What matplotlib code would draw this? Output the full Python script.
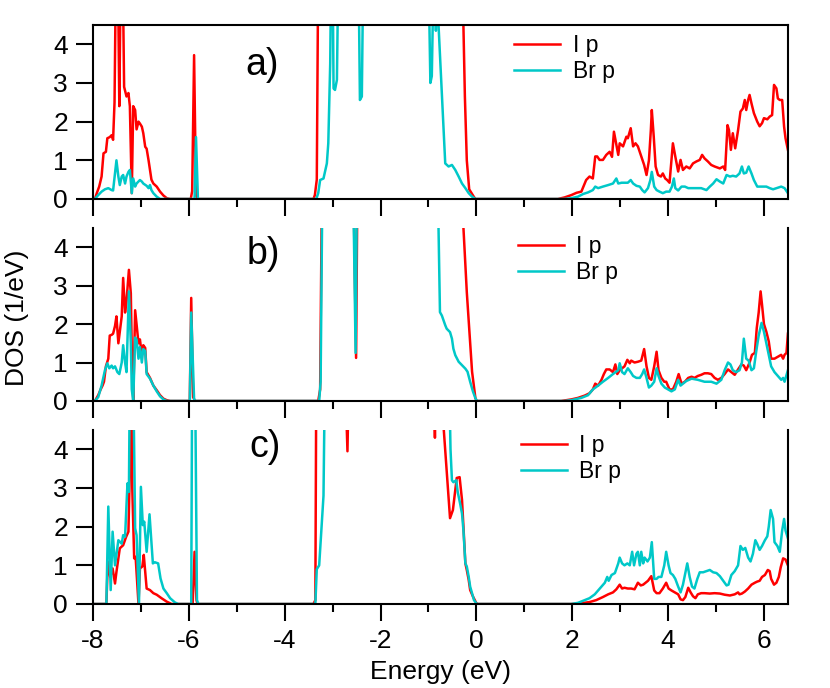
import matplotlib
matplotlib.use('Agg')
import matplotlib.pyplot as plt
from matplotlib.ticker import MultipleLocator

# (energy eV, DOS 1/eV) points; 6.0 = off scale
# panel a)
a_i_p = [(-8.0, 0), (-7.96, 0), (-7.92, 0.15), (-7.87, 0.32), (-7.82, 0.58), (-7.78, 1.18),
         (-7.73, 1.22), (-7.70, 1.57), (-7.65, 1.60), (-7.61, 1.65), (-7.58, 1.53), (-7.55, 2.5),
         (-7.52, 6), (-7.48, 6), (-7.45, 2.4), (-7.42, 6), (-7.38, 6), (-7.35, 2.9), (-7.30, 2.65),
         (-7.26, 2.74), (-7.23, 2.4), (-7.19, 0.15), (-7.16, 2.4), (-7.12, 2.3), (-7.09, 1.8),
         (-7.05, 2.0), (-7.02, 1.95), (-6.98, 1.87), (-6.95, 1.7), (-6.91, 1.35), (-6.88, 1.3),
         (-6.84, 1.0), (-6.81, 0.75), (-6.78, 0.5), (-6.74, 0.4), (-6.67, 0.32), (-6.60, 0.19),
         (-6.53, 0.09), (-6.46, 0.02), (-6.39, 0),
         (-5.96, 0), (-5.93, 0.2), (-5.89, 3.72), (-5.85, 0.1), (-5.82, 0),
         (-3.40, 0), (-3.37, 0.1), (-3.33, 0.5), (-3.30, 6), (-0.30, 6), (-0.27, 4.45), (-0.24, 2.65),
         (-0.20, 1.0), (-0.15, 0.25), (-0.05, 0.05), (-0.02, 0),
         (1.70, 0), (1.84, 0.04), (1.98, 0.1), (2.09, 0.16), (2.19, 0.19), (2.29, 0.49), (2.36, 0.58),
         (2.43, 0.53), (2.48, 1.1), (2.52, 1.1), (2.57, 1.01), (2.64, 1.01), (2.71, 1.14), (2.78, 1.22),
         (2.83, 1.09), (2.87, 1.74), (2.92, 1.4), (2.96, 1.14), (2.99, 1.44), (3.06, 1.36), (3.13, 1.61),
         (3.16, 1.57), (3.22, 1.83), (3.27, 1.36), (3.32, 1.44), (3.37, 1.36), (3.44, 1.1), (3.50, 0.88),
         (3.55, 0.62), (3.60, 1.0), (3.64, 1.78), (3.66, 2.3), (3.70, 1.62), (3.74, 0.84), (3.79, 0.62),
         (3.85, 0.58), (3.89, 0.66), (3.94, 0.53), (3.98, 0.49), (4.03, 0.42), (4.10, 1.44), (4.15, 1.1),
         (4.21, 0.71), (4.26, 1.01), (4.31, 0.75), (4.38, 0.84), (4.45, 0.79), (4.52, 0.92), (4.59, 0.97),
         (4.66, 1.01), (4.71, 1.14), (4.76, 1.05), (4.83, 0.97), (4.90, 0.88), (4.97, 0.84), (5.08, 0.79),
         (5.15, 0.84), (5.19, 0.75), (5.24, 1.91), (5.27, 1.78), (5.31, 1.27), (5.35, 1.70), (5.40, 1.31),
         (5.46, 1.78), (5.51, 2.26), (5.56, 2.34), (5.60, 2.56), (5.63, 2.30), (5.67, 2.56), (5.70, 2.69),
         (5.74, 2.47), (5.79, 2.22), (5.86, 2.0), (5.91, 1.88), (5.96, 1.96), (6.00, 2.09), (6.07, 2.06),
         (6.12, 2.13), (6.17, 2.17), (6.21, 2.95), (6.26, 2.86), (6.29, 2.6), (6.33, 2.56), (6.38, 2.56),
         (6.42, 1.87), (6.45, 1.57), (6.50, 1.27)]

a_br_p = [(-8.0, 0), (-7.96, 0), (-7.89, 0.1), (-7.82, 0.19), (-7.75, 0.25), (-7.68, 0.28), (-7.61, 0.23),
          (-7.58, 0.22), (-7.51, 1.0), (-7.47, 0.58), (-7.44, 0.36), (-7.40, 0.58), (-7.37, 0.62),
          (-7.33, 0.4), (-7.30, 0.58), (-7.26, 0.7), (-7.23, 0.75), (-7.19, 0.15), (-7.16, 0.53),
          (-7.12, 0.32), (-7.09, 0.4), (-7.02, 0.49), (-6.98, 0.45), (-6.95, 0.4), (-6.88, 0.34),
          (-6.84, 0.28), (-6.81, 0.36), (-6.78, 0.23), (-6.74, 0.15), (-6.67, 0.06), (-6.60, 0),
          (-5.88, 0), (-5.85, 1.6), (-5.81, 0),
          (-3.34, 0), (-3.30, 0.15), (-3.26, 0.49), (-3.19, 0.53), (-3.12, 0.92), (-3.09, 1.44),
          (-3.05, 3.5), (-3.03, 6), (-3.00, 6), (-2.98, 2.86), (-2.95, 2.82), (-2.91, 3.08), (-2.88, 6),
          (-2.46, 6), (-2.43, 2.56), (-2.39, 2.65), (-2.36, 6), (-1.00, 6), (-0.96, 3.0), (-0.93, 3.18),
          (-0.89, 6), (-0.86, 6), (-0.845, 4.35), (-0.83, 6), (-0.79, 4.5), (-0.72, 2.73), (-0.65, 0.92),
          (-0.58, 0.84), (-0.51, 0.88), (-0.44, 0.75), (-0.37, 0.58), (-0.30, 0.4), (-0.23, 0.28),
          (-0.16, 0.15), (-0.09, 0.06), (-0.02, 0),
          (1.84, 0), (1.98, 0.02), (2.12, 0.06), (2.23, 0.13), (2.33, 0.17), (2.43, 0.23), (2.48, 0.32),
          (2.54, 0.28), (2.64, 0.32), (2.75, 0.36), (2.85, 0.4), (2.92, 0.53), (2.96, 0.4), (3.03, 0.42),
          (3.16, 0.42), (3.22, 0.49), (3.27, 0.4), (3.34, 0.34), (3.41, 0.32), (3.46, 0.23), (3.51, 0.17),
          (3.58, 0.28), (3.63, 0.49), (3.66, 0.7), (3.71, 0.32), (3.76, 0.23), (3.82, 0.19), (3.89, 0.15),
          (3.96, 0.19), (4.03, 0.19), (4.08, 0.32), (4.12, 0.53), (4.15, 0.28), (4.21, 0.22), (4.28, 0.32),
          (4.35, 0.32), (4.42, 0.28), (4.59, 0.28), (4.69, 0.28), (4.80, 0.23), (4.87, 0.32), (4.94, 0.4),
          (5.01, 0.51), (5.08, 0.45), (5.15, 0.4), (5.22, 0.62), (5.29, 0.58), (5.35, 0.6), (5.42, 0.58),
          (5.49, 0.66), (5.54, 0.84), (5.58, 0.66), (5.63, 0.68), (5.68, 0.84), (5.74, 0.66), (5.79, 0.49),
          (5.86, 0.32), (5.95, 0.32), (6.05, 0.32), (6.12, 0.28), (6.19, 0.25), (6.26, 0.28), (6.36, 0.32),
          (6.43, 0.28), (6.50, 0.15)]

# panel b)
b_i_p = [(-8.0, 0), (-7.96, 0), (-7.89, 0.15), (-7.84, 0.3), (-7.80, 0.4), (-7.77, 0.5), (-7.73, 0.9),
         (-7.68, 1.1), (-7.65, 1.7), (-7.61, 1.72), (-7.58, 1.75), (-7.54, 1.95), (-7.51, 2.2),
         (-7.47, 1.5), (-7.44, 1.8), (-7.40, 2.2), (-7.37, 3.2), (-7.33, 2.3), (-7.30, 2.6), (-7.25, 3.41),
         (-7.21, 2.8), (-7.19, 1.3), (-7.16, 0.02), (-7.12, 2.36), (-7.09, 2.0), (-7.05, 1.5), (-7.02, 1.6),
         (-6.98, 1.2), (-6.95, 1.45), (-6.91, 1.38), (-6.88, 0.75), (-6.81, 0.6), (-6.74, 0.4),
         (-6.67, 0.28), (-6.60, 0.15), (-6.53, 0.06), (-6.46, 0.02), (-6.39, 0),
         (-5.98, 0), (-5.95, 2.68), (-5.91, 0.1), (-5.87, 0),
         (-3.30, 0), (-3.26, 0.3), (-3.22, 6), (-2.57, 6), (-2.51, 1.12), (-2.48, 6), (-0.30, 6),
         (-0.27, 4.5), (-0.20, 2.83), (-0.13, 1.53), (-0.09, 0.76), (-0.02, 0.07), (0.01, 0),
         (1.77, 0), (1.98, 0.04), (2.12, 0.08), (2.26, 0.14), (2.36, 0.2), (2.43, 0.3), (2.48, 0.45),
         (2.54, 0.4), (2.61, 0.55), (2.66, 0.7), (2.71, 0.82), (2.78, 0.82), (2.85, 0.75), (2.90, 0.95),
         (2.94, 0.7), (2.99, 0.8), (3.09, 0.9), (3.15, 1.07), (3.20, 0.98), (3.23, 1.05), (3.30, 1.0),
         (3.37, 1.02), (3.44, 1.05), (3.50, 1.35), (3.55, 0.9), (3.60, 0.6), (3.65, 0.55), (3.71, 0.9),
         (3.76, 1.28), (3.80, 0.8), (3.86, 0.6), (3.92, 0.5), (3.96, 0.5), (4.03, 0.3), (4.10, 0.3),
         (4.17, 0.5), (4.22, 0.7), (4.28, 0.45), (4.35, 0.5), (4.42, 0.6), (4.49, 0.63), (4.55, 0.6),
         (4.62, 0.65), (4.69, 0.68), (4.76, 0.72), (4.83, 0.72), (4.90, 0.7), (4.97, 0.6), (5.04, 0.55),
         (5.11, 0.6), (5.18, 0.7), (5.25, 0.82), (5.32, 0.75), (5.39, 0.68), (5.46, 0.82), (5.53, 0.95),
         (5.58, 0.92), (5.63, 0.8), (5.70, 1.0), (5.75, 1.2), (5.81, 1.25), (5.85, 1.9), (5.89, 2.3),
         (5.93, 2.85), (5.96, 2.5), (6.00, 2.0), (6.05, 1.8), (6.10, 1.55), (6.15, 1.1), (6.22, 1.1),
         (6.29, 1.15), (6.36, 1.2), (6.40, 1.1), (6.43, 1.2), (6.47, 1.25), (6.50, 1.75)]

b_br_p = [(-8.0, 0), (-7.96, 0), (-7.89, 0.1), (-7.82, 0.4), (-7.75, 0.8), (-7.70, 0.98), (-7.66, 0.85),
          (-7.61, 0.92), (-7.58, 0.85), (-7.54, 0.9), (-7.49, 0.75), (-7.45, 0.7), (-7.40, 1.0),
          (-7.37, 1.45), (-7.33, 1.0), (-7.30, 0.75), (-7.25, 2.85), (-7.21, 1.5), (-7.19, 0.3),
          (-7.16, 0.0), (-7.12, 1.65), (-7.09, 1.6), (-7.05, 1.1), (-7.02, 1.4), (-6.98, 1.0),
          (-6.95, 1.35), (-6.91, 1.3), (-6.88, 0.7), (-6.81, 0.58), (-6.74, 0.4), (-6.67, 0.25),
          (-6.60, 0.12), (-6.53, 0.04), (-6.46, 0),
          (-5.98, 0), (-5.95, 2.3), (-5.89, 0.05), (-5.86, 0),
          (-3.28, 0), (-3.25, 0.5), (-3.21, 6), (-2.575, 6), (-2.52, 1.25), (-2.49, 6), (-0.80, 6),
          (-0.79, 4.5), (-0.76, 2.31), (-0.72, 2.22), (-0.65, 1.97), (-0.62, 1.88), (-0.55, 1.79),
          (-0.51, 1.62), (-0.48, 1.36), (-0.44, 1.19), (-0.37, 1.02), (-0.30, 0.93), (-0.23, 0.84),
          (-0.185, 0.76), (-0.13, 0.5), (-0.07, 0.24), (-0.02, 0.07), (0.01, 0),
          (1.84, 0), (1.98, 0.02), (2.19, 0.08), (2.33, 0.15), (2.43, 0.3), (2.54, 0.4), (2.64, 0.5),
          (2.75, 0.6), (2.85, 0.7), (2.96, 0.8), (2.99, 0.98), (3.04, 0.75), (3.09, 0.7), (3.16, 0.85),
          (3.22, 0.75), (3.27, 0.65), (3.34, 0.6), (3.41, 0.6), (3.46, 0.7), (3.50, 0.82), (3.55, 0.6),
          (3.60, 0.35), (3.65, 0.4), (3.71, 0.5), (3.76, 0.85), (3.80, 0.65), (3.86, 0.45), (3.93, 0.35),
          (4.00, 0.3), (4.07, 0.25), (4.14, 0.3), (4.21, 0.55), (4.26, 0.4), (4.31, 0.45), (4.38, 0.52),
          (4.49, 0.58), (4.62, 0.55), (4.76, 0.5), (4.90, 0.5), (5.01, 0.45), (5.11, 0.55), (5.18, 0.8),
          (5.25, 1.0), (5.30, 0.95), (5.35, 0.8), (5.42, 0.75), (5.49, 0.8), (5.54, 1.0), (5.58, 1.62),
          (5.63, 1.1), (5.68, 1.05), (5.74, 0.8), (5.79, 0.85), (5.84, 1.3), (5.89, 1.7), (5.95, 2.03),
          (6.00, 1.8), (6.05, 1.5), (6.10, 1.2), (6.15, 0.9), (6.22, 0.75), (6.29, 0.65), (6.36, 0.55),
          (6.40, 0.6), (6.43, 0.5), (6.50, 0.8)]

# panel c)
c_i_p = [(-8.0, 0), (-7.72, 0), (-7.69, 1.1), (-7.64, 0.7), (-7.59, 0.92), (-7.54, 0.53), (-7.51, 0.83),
         (-7.44, 1.44), (-7.37, 1.52), (-7.31, 1.73), (-7.26, 1.87), (-7.23, 3.5), (-7.20, 6),
         (-7.18, 3.0), (-7.14, 1.18), (-7.11, 1.22), (-7.05, 0), (-7.02, 0.92), (-6.97, 0.97),
         (-6.94, 1.27), (-6.88, 0.4), (-6.81, 0.36), (-6.74, 0.28), (-6.67, 0.24), (-6.57, 0.15),
         (-6.46, 0.06), (-6.36, 0),
         (-5.92, 0), (-5.88, 1.35), (-5.84, 0.1), (-5.82, 0),
         (-3.40, 0), (-3.36, 0.1), (-3.34, 6), (-2.74, 6), (-2.69, 3.95), (-2.66, 6), (-0.89, 6),
         (-0.865, 4.3), (-0.85, 6), (-0.70, 6), (-0.68, 4.5), (-0.55, 2.22), (-0.49, 2.43), (-0.44, 2.95),
         (-0.41, 3.26), (-0.35, 3.28), (-0.30, 2.69), (-0.27, 2.0), (-0.23, 1.05), (-0.20, 0.88),
         (-0.16, 0.62), (-0.13, 0.36), (-0.07, 0.19), (0.0, 0.02), (0.02, 0),
         (1.98, 0), (2.19, 0.02), (2.36, 0.05), (2.50, 0.1), (2.64, 0.18), (2.75, 0.25), (2.85, 0.3),
         (2.92, 0.38), (2.99, 0.5), (3.04, 0.4), (3.09, 0.42), (3.16, 0.4), (3.23, 0.4), (3.30, 0.38),
         (3.37, 0.55), (3.43, 0.48), (3.48, 0.5), (3.53, 0.55), (3.58, 0.6), (3.65, 0.72), (3.71, 0.35),
         (3.76, 0.28), (3.82, 0.28), (3.89, 0.4), (3.96, 0.55), (4.01, 0.4), (4.07, 0.35), (4.14, 0.3),
         (4.21, 0.25), (4.26, 0.12), (4.31, 0.1), (4.36, 0.18), (4.42, 0.42), (4.47, 0.3), (4.52, 0.2),
         (4.57, 0.15), (4.62, 0.25), (4.69, 0.28), (4.76, 0.28), (4.87, 0.27), (4.97, 0.28), (5.08, 0.27),
         (5.18, 0.24), (5.29, 0.22), (5.39, 0.25), (5.46, 0.3), (5.49, 0.25), (5.54, 0.27), (5.60, 0.32),
         (5.67, 0.4), (5.74, 0.5), (5.81, 0.55), (5.86, 0.58), (5.91, 0.6), (5.96, 0.7), (6.02, 0.75),
         (6.08, 0.88), (6.12, 0.85), (6.15, 0.65), (6.21, 0.5), (6.26, 0.55), (6.31, 0.7), (6.35, 0.95),
         (6.40, 1.18), (6.45, 1.15), (6.50, 1.0)]

c_br_p = [(-8.0, 0), (-7.72, 0), (-7.68, 2.52), (-7.63, 0.36), (-7.59, 1.87), (-7.54, 1.0), (-7.47, 1.65),
          (-7.40, 1.56), (-7.37, 1.78), (-7.33, 1.74), (-7.28, 3.12), (-7.25, 2.9), (-7.23, 6), (-7.16, 6),
          (-7.12, 1.96), (-7.09, 1.78), (-7.04, 0), (-7.00, 3.03), (-6.96, 2.04), (-6.93, 2.13),
          (-6.88, 1.35), (-6.82, 2.32), (-6.75, 1.05), (-6.71, 1.08), (-6.64, 1.05), (-6.59, 0.66),
          (-6.53, 0.4), (-6.46, 0.28), (-6.39, 0.15), (-6.29, 0.04), (-6.22, 0),
          (-5.95, 0), (-5.93, 6), (-5.87, 6), (-5.83, 0.1), (-5.80, 0),
          (-3.36, 0), (-3.33, 0.9), (-3.28, 1.0), (-3.23, 2.0), (-3.19, 2.8), (-3.16, 6), (-0.57, 6),
          (-0.54, 4.0), (-0.51, 3.2), (-0.48, 3.15), (-0.42, 3.2), (-0.39, 2.9), (-0.34, 2.6),
          (-0.30, 2.34), (-0.27, 1.9), (-0.23, 1.05), (-0.20, 0.97), (-0.16, 0.7), (-0.13, 0.45),
          (-0.09, 0.28), (-0.05, 0.1), (0.01, 0),
          (1.98, 0), (2.12, 0.03), (2.26, 0.1), (2.36, 0.15), (2.47, 0.25), (2.54, 0.35), (2.61, 0.45),
          (2.68, 0.55), (2.73, 0.7), (2.76, 0.6), (2.82, 0.75), (2.89, 0.8), (2.96, 1.05), (2.99, 1.2),
          (3.04, 1.05), (3.09, 1.0), (3.15, 1.05), (3.20, 1.0), (3.25, 1.35), (3.29, 1.0), (3.34, 1.3),
          (3.37, 1.35), (3.41, 1.0), (3.44, 1.35), (3.48, 1.05), (3.51, 1.2), (3.57, 1.1), (3.62, 1.2),
          (3.66, 1.6), (3.71, 0.65), (3.76, 0.65), (3.80, 0.7), (3.86, 0.7), (3.92, 1.0), (3.96, 1.35),
          (4.01, 1.0), (4.05, 0.8), (4.10, 0.75), (4.15, 0.65), (4.21, 0.45), (4.26, 0.3), (4.31, 0.5),
          (4.36, 0.8), (4.40, 1.05), (4.45, 0.7), (4.50, 0.45), (4.55, 0.4), (4.61, 0.65), (4.66, 0.82),
          (4.73, 0.82), (4.80, 0.85), (4.87, 0.88), (4.94, 0.82), (5.01, 0.8), (5.08, 0.72), (5.15, 0.6),
          (5.22, 0.48), (5.26, 0.5), (5.32, 0.75), (5.39, 0.85), (5.46, 1.0), (5.51, 1.5), (5.56, 1.4),
          (5.61, 1.45), (5.67, 1.2), (5.72, 1.1), (5.77, 1.3), (5.82, 1.65), (5.86, 1.55), (5.91, 1.4),
          (5.96, 1.5), (6.02, 1.65), (6.07, 1.75), (6.10, 2.0), (6.14, 2.43), (6.19, 2.2), (6.22, 1.6),
          (6.28, 1.5), (6.33, 1.35), (6.38, 1.9), (6.42, 2.2), (6.45, 1.9), (6.50, 1.7)]

series_names = ['I p', 'Br p']
panel_labels = ['a)', 'b)', 'c)']
x_ticks = [-8, -6, -4, -2, 0, 2, 4, 6]
y_ticks = [0, 1, 2, 3, 4]

RED = '#ff0000'
CYAN = '#00c8c8'

plt.rcParams['font.family'] = ['Liberation Sans', 'DejaVu Sans']
plt.rcParams['axes.unicode_minus'] = False


def split(pts):
    return [p[0] for p in pts], [p[1] for p in pts]


fig = plt.figure(figsize=(8.3, 6.88), dpi=100)

boxes = [(0.1120, 0.7108, 0.8373, 0.2529),
         (0.1120, 0.4172, 0.8373, 0.2515),
         (0.1120, 0.1221, 0.8373, 0.2529)]
legend_pos = [(0.606, 0.948), (0.6115, 0.960), (0.616, 0.977)]
label_pos = [(0.243, 0.770), (0.245, 0.850), (0.247, 0.902)]
data = [(a_i_p, a_br_p), (b_i_p, b_br_p), (c_i_p, c_br_p)]

for k in range(3):
    ax = fig.add_axes(boxes[k])
    e1, d1 = split(data[k][0])
    e2, d2 = split(data[k][1])
    ax.plot(e1, d1, color=RED, lw=1.8, label=series_names[0])
    ax.plot(e2, d2, color=CYAN, lw=1.8, label=series_names[1])

    ax.set_xlim(-8, 6.5)
    ax.set_ylim(0, 4.5)
    ax.set_xticks(x_ticks)
    ax.set_yticks(y_ticks)
    ax.xaxis.set_minor_locator(MultipleLocator(1))
    ax.tick_params(axis='both', which='major', direction='out', length=12, width=1.5,
                   labelsize=19, pad=6)
    ax.tick_params(axis='x', which='minor', direction='out', length=6, width=1.5)
    for sp in ax.spines.values():
        sp.set_linewidth(1.5)
    if k > 0:
        ax.spines['top'].set_visible(False)
    if k < 2:
        ax.tick_params(axis='x', labelbottom=False)

    ax.legend(loc='upper left', bbox_to_anchor=legend_pos[k], frameon=False, fontsize=16.5,
              handlelength=2.0, handletextpad=0.55, labelspacing=0.12,
              borderpad=0, borderaxespad=0)
    ax.text(label_pos[k][0], label_pos[k][1], panel_labels[k], transform=ax.transAxes,
            fontsize=27, ha='center', va='center')

fig.text(17 / 830, 1 - 318 / 688, 'DOS (1/eV)', rotation=90, fontsize=19,
         ha='center', va='center')
fig.text(440 / 830, 1 - 672 / 688, 'Energy (eV)', fontsize=19, ha='center', va='center')

fig.savefig('out.png', dpi=100)
